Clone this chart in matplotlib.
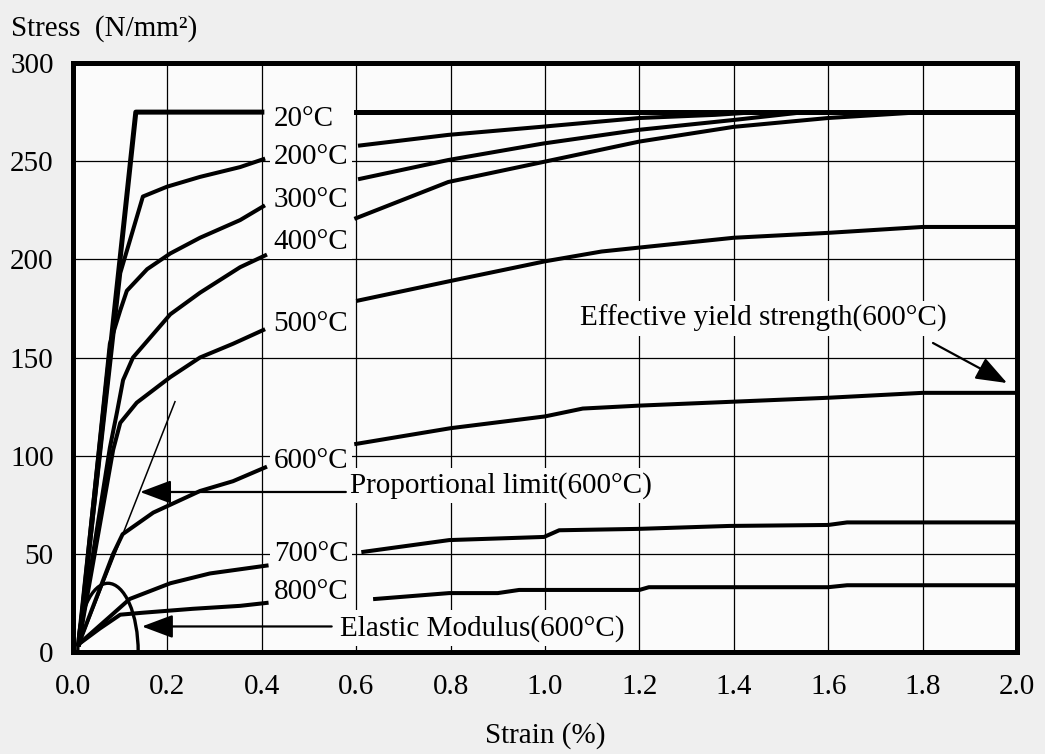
import numpy as np
import matplotlib.pyplot as plt
from matplotlib.patches import Arc

plt.rcParams['font.family'] = ['Liberation Serif', 'DejaVu Serif']

temps = ['20°C', '200°C', '300°C', '400°C', '500°C', '600°C', '700°C', '800°C']

# left part of each curve (before the label gap)
left_strain = [
    [0.012, 0.133, 0.40],
    [0.012, 0.10, 0.148, 0.199, 0.269, 0.354, 0.403],
    [0.012, 0.078, 0.10, 0.114, 0.157, 0.206, 0.269, 0.354, 0.403],
    [0.012, 0.078, 0.093, 0.106, 0.127, 0.206, 0.269, 0.354, 0.407],
    [0.012, 0.085, 0.10, 0.135, 0.206, 0.269, 0.339, 0.403],
    [0.012, 0.085, 0.105, 0.17, 0.269, 0.339, 0.407],
    [0.012, 0.078, 0.12, 0.206, 0.29, 0.41],
    [0.012, 0.057, 0.10, 0.148, 0.254, 0.354, 0.41],
]
left_stress = [
    [4, 275, 275],
    [4, 193, 232, 237, 242, 247, 251],
    [4, 157, 174, 184, 195, 203, 211, 220, 227],
    [4, 104, 122, 138.5, 150, 172, 183, 196, 202],
    [4, 103, 116.7, 127, 140, 150, 157, 164],
    [4, 50, 60, 71, 82, 87, 94],
    [4, 18, 27, 35, 40, 44],
    [4, 12, 19, 20, 22, 23.5, 25],
]

# right part of each curve (after the label gap)
right_strain = [
    [0.60, 2.0],
    [0.608, 0.795, 0.996, 1.2, 1.36, 1.45, 2.0],
    [0.608, 0.795, 0.996, 1.2, 1.4, 1.55, 2.0],
    [0.60, 0.795, 0.996, 1.2, 1.4, 1.6, 1.8, 2.0],
    [0.604, 0.8, 1.0, 1.12, 1.2, 1.4, 1.6, 1.8, 2.0],
    [0.6, 0.8, 1.0, 1.08, 1.2, 1.4, 1.6, 1.8, 2.0],
    [0.615, 0.797, 0.998, 1.03, 1.197, 1.39, 1.6, 1.64, 2.0],
    [0.64, 0.797, 0.9, 0.945, 1.2, 1.22, 1.6, 1.64, 2.0],
]
right_stress = [
    [275, 275],
    [258, 263.4, 267.6, 272, 273.6, 275, 275],
    [241, 250.6, 259, 266, 271, 275, 275],
    [221, 239.4, 249.6, 260, 267.5, 272, 275, 275],
    [179, 189, 199, 204, 206, 211, 213.5, 216.5, 216.5],
    [106, 114, 120, 124, 125.5, 127.5, 129.5, 132, 132],
    [51, 57, 58.6, 62, 62.7, 64.2, 64.7, 66, 66],
    [27, 30, 30, 31.6, 31.6, 33, 33, 34, 34],
]

label_stress = [271.5, 252, 230, 209, 167, 97.5, 50, 30.5]

# proportional limit tangent for 600 C
prop_strain = [0.012, 0.216]
prop_stress = [3, 127.5]

xticks = [0.0, 0.2, 0.4, 0.6, 0.8, 1.0, 1.2, 1.4, 1.6, 1.8, 2.0]
yticks = [0, 50, 100, 150, 200, 250, 300]

fs = 21
fig_bg = '#efefef'
ax_bg = '#fbfbfb'

fig = plt.figure(figsize=(10.45, 7.54), dpi=100, facecolor=fig_bg)
ax = fig.add_axes([0.0699, 0.1353, 0.9033, 0.7811])
ax.set_facecolor(ax_bg)

ax.set_xlim(0, 2.0)
ax.set_ylim(0, 300)
ax.set_xticks(xticks)
ax.set_xticklabels(['%.1f' % v for v in xticks])
ax.set_yticks(yticks)
ax.tick_params(length=0, labelsize=fs)
ax.tick_params(axis='x', pad=16)
ax.tick_params(axis='y', pad=14)
ax.grid(True, color='black', lw=0.9)
ax.set_axisbelow(True)
for s in ax.spines.values():
    s.set_linewidth(3.6)

for i, t in enumerate(temps):
    lw = 3.6 if i == 0 else 2.9
    ax.plot(left_strain[i], left_stress[i], color='black', lw=lw, solid_joinstyle='round', zorder=3)
    ax.plot(right_strain[i], right_stress[i], color='black', lw=lw, solid_joinstyle='round', zorder=3)
    ax.text(0.425, label_stress[i], t, fontsize=fs, va='center', ha='left', zorder=4,
            bbox=dict(fc=ax_bg, ec='none', pad=3))

ax.plot(prop_strain, prop_stress, color='black', lw=1.1, zorder=3)

# elastic modulus arc
ax.add_patch(Arc((0.074, 0), 0.128, 70, theta1=0, theta2=105, color='black', lw=2.4, zorder=3))

arrow = dict(arrowstyle='-|>,head_length=0.8,head_width=0.3', color='black', lw=1.6,
             mutation_scale=24, shrinkA=0, shrinkB=0)
ax.annotate('', xy=(0.142, 81.5), xytext=(0.578, 81.5), arrowprops=arrow, zorder=5)
ax.text(0.587, 84.6, 'Proportional limit(600°C)', fontsize=fs, va='center', ha='left',
        zorder=4, bbox=dict(fc=ax_bg, ec='none', pad=3))

ax.annotate('', xy=(0.146, 13), xytext=(0.548, 13), arrowprops=arrow, zorder=5)
ax.text(0.565, 12.2, 'Elastic Modulus(600°C)', fontsize=fs, va='center', ha='left',
        zorder=4, bbox=dict(fc=ax_bg, ec='none', pad=3))

ax.annotate('', xy=(1.979, 137), xytext=(1.822, 157.4), arrowprops=arrow, zorder=5)
ax.text(1.074, 170, 'Effective yield strength(600°C)', fontsize=fs, va='center', ha='left',
        zorder=4, bbox=dict(fc=ax_bg, ec='none', pad=3))

fig.text(0.011, 0.962, 'Stress  (N/mm²)', fontsize=fs, va='center', ha='left')
ax.set_xlabel('Strain (%)', fontsize=fs, labelpad=16)

fig.savefig('out.png', dpi=100, facecolor=fig_bg)
